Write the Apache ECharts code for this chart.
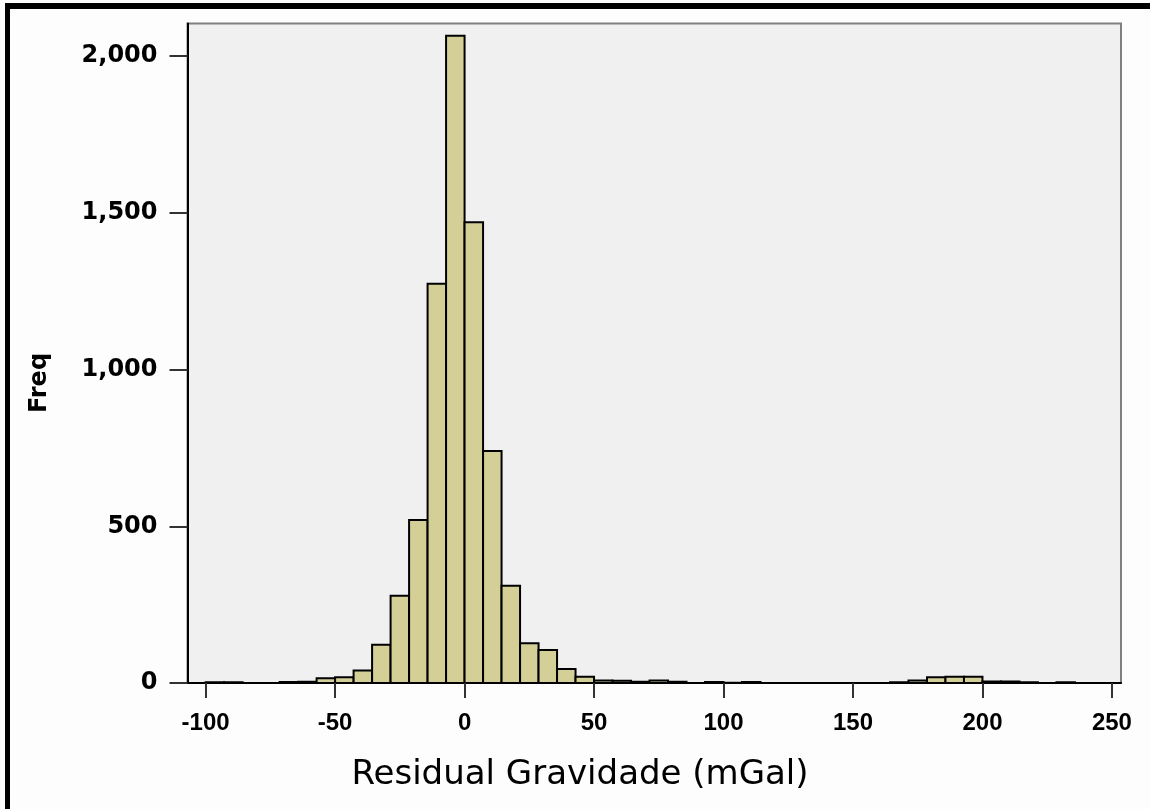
<!DOCTYPE html>
<html>
<head>
<meta charset="utf-8">
<script src="https://cdn.jsdelivr.net/npm/echarts@6/dist/echarts.min.js"></script>
<style>
html,body{margin:0;padding:0;background:#fdfdfd;}
#chart{width:1150px;height:809px;}
</style>
</head>
<body>
<div id="chart"></div>
<script>
// Histogram bins: start of first bin and bin width (mGal)
const binStart = -100;
const binWidth = 50 / 7;
// Frequencies per bin (49 bins from -100 to 250)
const freq = [
  2, 2, 0, 0, 3, 4, 15, 18, 40, 122,
  278, 520, 1274, 2065, 1470, 740, 310, 127, 105, 45,
  20, 8, 7, 4, 8, 4, 0, 3, 1, 3,
  0, 0, 0, 0, 0, 0, 0, 2, 8, 18,
  20, 20, 5, 5, 2, 0, 2, 0, 0
];
const xTicks = [-100, -50, 0, 50, 100, 150, 200, 250];
const yTicks = [0, 500, 1000, 1500, 2000];
const xTitle = 'Residual Gravidade (mGal)';
const yTitle = 'Freq';

const data = [];
freq.forEach(function (v, i) {
  if (v > 0) {
    const s = binStart + i * binWidth;
    data.push([s, s + binWidth, v]);
  }
});

const chart = echarts.init(document.getElementById('chart'));
chart.setOption({
  backgroundColor: '#fdfdfd',
  animation: false,
  graphic: [
    { type: 'rect', shape: { x: 5, y: 3, width: 1145, height: 6 }, style: { fill: '#000' }, z: 100 },
    { type: 'rect', shape: { x: 5, y: 3, width: 5, height: 806 }, style: { fill: '#000' }, z: 100 },
    { type: 'text', x: 580, y: 775,
      style: { text: xTitle, font: '34px "DejaVu Sans"', fill: '#000', align: 'center', verticalAlign: 'middle' } },
    { type: 'text', x: 40, y: 383, rotation: Math.PI / 2,
      style: { text: yTitle, font: 'bold 24px "DejaVu Sans"', fill: '#000', align: 'center', verticalAlign: 'middle' } }
  ],
  grid: {
    left: 187.5, right: 29, top: 23.5, bottom: 126,
    show: true, backgroundColor: '#f0f0f0', borderColor: '#808080', borderWidth: 2
  },
  xAxis: {
    type: 'value', min: -107, max: 253.5,
    splitLine: { show: false },
    axisLine: { show: true, onZero: false, lineStyle: { color: '#000', width: 2 } },
    axisTick: { show: true, length: 15, customValues: xTicks, lineStyle: { color: '#333', width: 2 } },
    axisLabel: {
      customValues: xTicks, margin: 28,
      fontFamily: 'Liberation Sans', fontWeight: 'bold', fontSize: 24, color: '#000'
    }
  },
  yAxis: {
    type: 'value', min: 0, max: 2104,
    splitLine: { show: false },
    axisLine: { show: true, onZero: false, lineStyle: { color: '#000', width: 2 } },
    axisTick: { show: true, length: 18, customValues: yTicks, lineStyle: { color: '#333', width: 2 } },
    axisLabel: {
      customValues: yTicks, margin: 30,
      fontFamily: 'DejaVu Sans', fontWeight: 'bold', fontSize: 24, color: '#000',
      formatter: function (v) { return v.toLocaleString('en-US'); }
    }
  },
  series: [{
    type: 'custom',
    data: data,
    encode: { x: [0, 1], y: 2 },
    clip: true,
    renderItem: function (params, api) {
      const p0 = api.coord([api.value(0), api.value(2)]);
      const p1 = api.coord([api.value(1), 0]);
      return {
        type: 'rect',
        shape: { x: p0[0], y: p0[1], width: p1[0] - p0[0], height: p1[1] - p0[1] },
        style: { fill: '#d3cf97', stroke: '#000', lineWidth: 2 }
      };
    }
  }]
});
</script>
</body>
</html>
